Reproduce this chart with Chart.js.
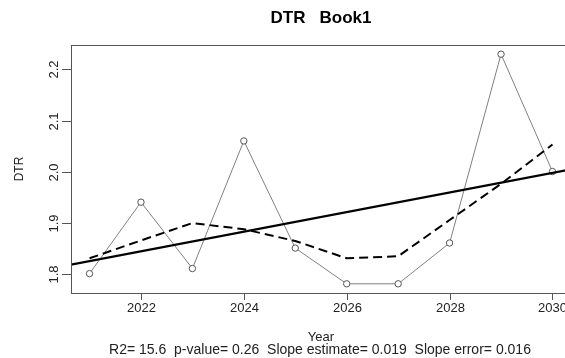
<!DOCTYPE html>
<html>
<head>
<meta charset="utf-8">
<script src="https://cdn.jsdelivr.net/npm/chart.js@4/dist/chart.umd.min.js"></script>
<style>
  html, body { margin: 0; padding: 0; background: #fff; overflow: hidden; }
  #wrap { width: 565px; height: 358px; overflow: hidden; }
  canvas { display: block; }
</style>
</head>
<body>
<div id="wrap"><canvas id="c" width="600" height="358"></canvas></div>
<script>
// Annual DTR series, Book1
const years = [2021, 2022, 2023, 2024, 2025, 2026, 2027, 2028, 2029, 2030];
const dtr = [1.80, 1.94, 1.81, 2.06, 1.85, 1.78, 1.78, 1.86, 2.23, 2.00];
// Lowess smooth of the series
const smoothDtr = [1.830, 1.865, 1.899, 1.887, 1.864, 1.830, 1.834, 1.905, 1.976, 2.053];
const xTicks = [2022, 2024, 2026, 2028, 2030];
const yTicks = [1.8, 1.9, 2.0, 2.1, 2.2];
const titleText = 'DTR   Book1';
const xTitle = 'Year';
const yTitle = 'DTR';
const statsText = 'R2= 15.6  p-value= 0.26  Slope estimate= 0.019  Slope error= 0.016';

// Axis ranges padded 4% beyond the data, as base graphics do
function padRange(vals) {
  const lo = Math.min(...vals), hi = Math.max(...vals), d = (hi - lo) * 0.04;
  return [lo - d, hi + d];
}
const [xMin, xMax] = padRange(years);
const [yMin, yMax] = padRange(dtr);

// Least-squares trend line across the full x range
const n = years.length;
const mx = years.reduce((a, b) => a + b, 0) / n;
const my = dtr.reduce((a, b) => a + b, 0) / n;
let sxy = 0, sxx = 0;
for (let i = 0; i < n; i++) { sxy += (years[i] - mx) * (dtr[i] - my); sxx += (years[i] - mx) ** 2; }
const slope = sxy / sxx;
const trend = [xMin, xMax].map(x => ({ x, y: my + slope * (x - mx) }));

const FONT = '"Liberation Sans", Arial, sans-serif';

const framePlugin = {
  id: 'frame',
  afterDraw(chart) {
    const { ctx, chartArea: a, scales: { x, y } } = chart;
    const midX = (a.left + a.right) / 2;
    ctx.save();
    ctx.strokeStyle = '#555';
    ctx.lineWidth = 1;
    ctx.strokeRect(Math.round(a.left) + 0.5, Math.round(a.top) + 0.5,
                   Math.round(a.right - a.left), Math.round(a.bottom - a.top));
    ctx.fillStyle = '#222';
    ctx.font = '13px ' + FONT;
    // x ticks
    ctx.textAlign = 'center';
    ctx.textBaseline = 'middle';
    xTicks.forEach(t => {
      const px = Math.round(x.getPixelForValue(t)) + 0.5;
      ctx.beginPath();
      ctx.moveTo(px, a.bottom); ctx.lineTo(px, a.bottom + 7); ctx.stroke();
      ctx.fillText(String(t), px, a.bottom + 15);
    });
    // y ticks, labels parallel to the axis
    yTicks.forEach(t => {
      const py = Math.round(y.getPixelForValue(t)) + 0.5;
      ctx.beginPath();
      ctx.moveTo(a.left - 9, py); ctx.lineTo(a.left, py); ctx.stroke();
      ctx.save();
      ctx.translate(a.left - 17, py);
      ctx.rotate(-Math.PI / 2);
      ctx.fillText(t.toFixed(1), 0, 0);
      ctx.restore();
    });
    // axis titles
    ctx.font = '12px ' + FONT;
    ctx.save();
    ctx.translate(20, (a.top + a.bottom) / 2);
    ctx.rotate(-Math.PI / 2);
    ctx.fillText(yTitle, 0, 0);
    ctx.restore();
    ctx.font = '13px ' + FONT;
    ctx.fillText(xTitle, midX, 337);
    ctx.font = '14px ' + FONT;
    ctx.fillText(statsText, midX - 1, 350);
    // main title
    ctx.fillStyle = '#000';
    ctx.font = 'bold 17px ' + FONT;
    ctx.fillText(titleText, midX, 18.5);
    ctx.restore();
  }
};

new Chart(document.getElementById('c'), {
  type: 'scatter',
  data: {
    datasets: [
      {
        label: 'Lowess',
        type: 'line',
        data: years.map((x, i) => ({ x, y: smoothDtr[i] })),
        borderColor: '#000',
        borderWidth: 2,
        borderDash: [9, 5],
        pointRadius: 0,
        fill: false,
        tension: 0,
        order: 1
      },
      {
        label: 'Trend',
        type: 'line',
        data: trend,
        borderColor: '#000',
        borderWidth: 2.2,
        pointRadius: 0,
        fill: false,
        order: 2
      },
      {
        label: 'DTR',
        type: 'line',
        data: years.map((x, i) => ({ x, y: dtr[i] })),
        borderColor: '#808080',
        borderWidth: 1,
        pointRadius: 3.2,
        pointBackgroundColor: '#fff',
        pointBorderColor: '#555',
        pointBorderWidth: 1,
        fill: false,
        tension: 0,
        order: 3
      }
    ]
  },
  options: {
    responsive: false,
    animation: false,
    layout: { padding: { left: 71, top: 45, right: 29, bottom: 65 } },
    plugins: { legend: { display: false }, tooltip: { enabled: false }, title: { display: false } },
    scales: {
      x: { type: 'linear', min: xMin, max: xMax, display: false },
      y: { type: 'linear', min: yMin, max: yMax, display: false }
    }
  },
  plugins: [framePlugin]
});
</script>
</body>
</html>
